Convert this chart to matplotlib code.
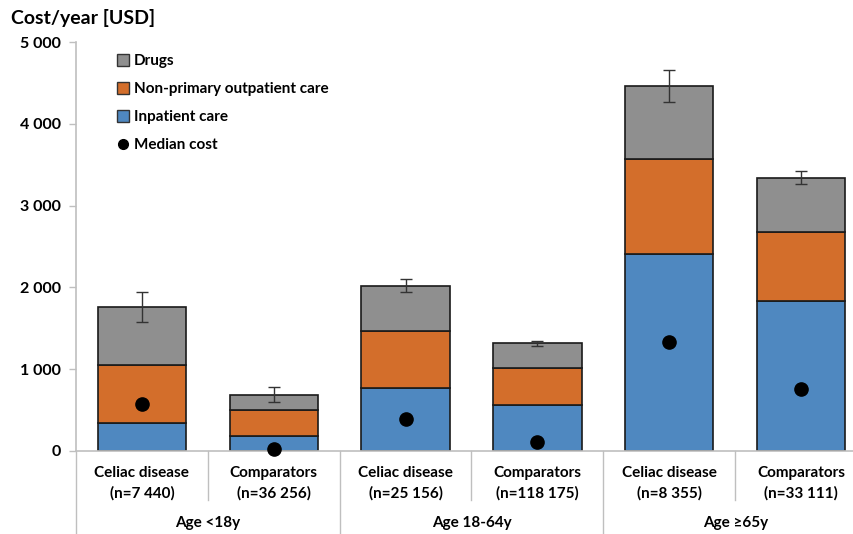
import matplotlib.pyplot as plt
from matplotlib.patches import Patch
from matplotlib.lines import Line2D
from matplotlib.ticker import FuncFormatter

plt.rcParams["font.family"] = ["Lato", "DejaVu Sans"]
plt.rcParams["font.weight"] = "bold"

# cost components per cohort (USD / year)
groups = ["Age <18y", "Age 18-64y", "Age \u226565y"]
cohorts = ["Celiac disease\n(n=7 440)", "Comparators\n(n=36 256)",
           "Celiac disease\n(n=25 156)", "Comparators\n(n=118 175)",
           "Celiac disease\n(n=8 355)", "Comparators\n(n=33 111)"]
inpatient = [346, 180, 766, 562, 2408, 1837]
outpatient = [705, 317, 705, 456, 1162, 844]
drugs = [709, 191, 550, 299, 892, 660]
total_err = [178, 94, 82, 29, 196, 81]
median_cost = [571, 21, 387, 114, 1336, 758]

C_IN = "#4f88c0"
C_OUT = "#d36e2b"
C_DRUG = "#8f8f8f"
AXIS_GREY = "#bfbfbf"

fig = plt.figure(figsize=(8.54, 5.34), dpi=100)
ax = fig.add_axes([76 / 854, 1 - 451 / 534, 791 / 854, 409 / 534])

x = list(range(len(cohorts)))
w = 0.67
bottom2 = [a + b for a, b in zip(inpatient, outpatient)]
totals = [a + b for a, b in zip(bottom2, drugs)]

ax.bar(x, inpatient, w, color=C_IN, edgecolor="#1a1a1a", linewidth=1.2, zorder=2)
ax.bar(x, outpatient, w, bottom=inpatient, color=C_OUT, edgecolor="#1a1a1a", linewidth=1.2, zorder=2)
ax.bar(x, drugs, w, bottom=bottom2, color=C_DRUG, edgecolor="#1a1a1a", linewidth=1.2, zorder=2)
ax.errorbar(x, totals, yerr=total_err, fmt="none", ecolor="#333333", elinewidth=1,
            capsize=4, capthick=1, zorder=3)
ax.plot(x, median_cost, "o", color="black", markersize=9.5, zorder=4, clip_on=False)

ax.set_xlim(-0.5, 5.5)
ax.set_ylim(0, 5000)
ax.set_yticks(range(0, 5001, 1000))
ax.yaxis.set_major_formatter(FuncFormatter(lambda v, p: f"{int(v):,}".replace(",", " ")))
ax.tick_params(axis="y", length=5, width=1, color=AXIS_GREY, labelsize=11.5, pad=6)
ax.set_xticks(x)
ax.set_xticklabels(cohorts, fontsize=11, linespacing=1.5)
ax.tick_params(axis="x", length=0, pad=11)

for s in ["top", "right"]:
    ax.spines[s].set_visible(False)
ax.spines["left"].set_color(AXIS_GREY)
ax.spines["bottom"].set_color(AXIS_GREY)
ax.spines["left"].set_linewidth(1.2)
ax.spines["bottom"].set_linewidth(1.2)

# category dividers below the axis
tr = ax.get_xaxis_transform()
for xd in [0.5, 2.5, 4.5]:
    ax.plot([xd, xd], [0, -0.12], transform=tr, color=AXIS_GREY, lw=1, clip_on=False)
for xd in [-0.5, 1.5, 3.5, 5.5]:
    ax.plot([xd, xd], [0, -0.21], transform=tr, color=AXIS_GREY, lw=1, clip_on=False)
for i, g in enumerate(groups):
    ax.text(2 * i + 0.5, -0.175, g, transform=tr, ha="center", va="center", fontsize=11)

handles = [Patch(facecolor=C_DRUG, edgecolor="#333333"),
           Patch(facecolor=C_OUT, edgecolor="#333333"),
           Patch(facecolor=C_IN, edgecolor="#333333"),
           Line2D([], [], marker="o", color="black", linestyle="none", markersize=7)]
labels = ["Drugs", "Non-primary outpatient care", "Inpatient care", "Median cost"]
ax.legend(handles, labels, loc="upper left", bbox_to_anchor=(0.052, 0.97), frameon=False,
          fontsize=11, handlelength=0.8, handleheight=0.8, handletextpad=0.3,
          labelspacing=0.9, borderpad=0, borderaxespad=0)

fig.text(11 / 854, 1 - 18 / 534, "Cost/year [USD]", fontsize=14, va="center", ha="left")

fig.savefig("out.png", dpi=100)
